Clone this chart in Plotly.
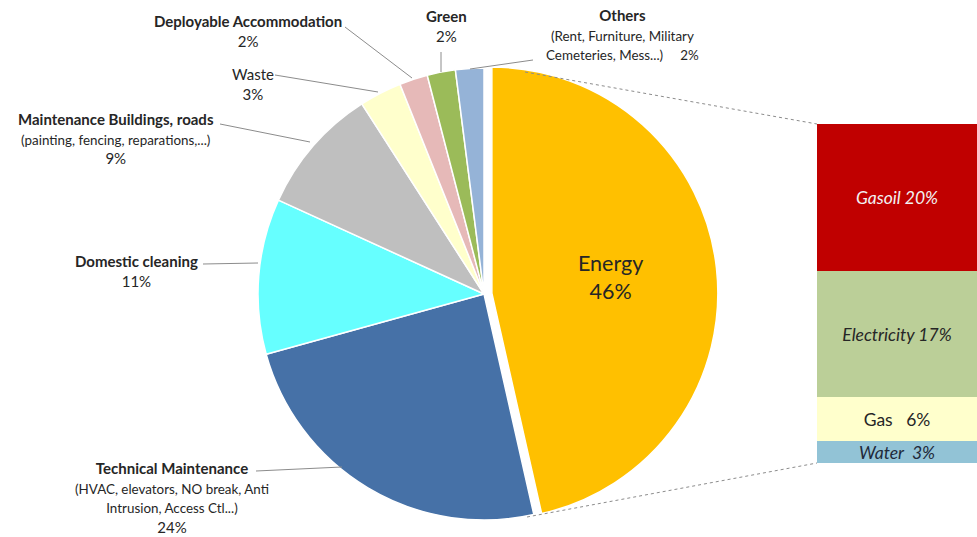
import plotly.graph_objects as go

# ---------------- data ----------------
categories = ["Energy", "Technical Maintenance", "Domestic cleaning",
              "Maintenance Buildings, roads", "Waste",
              "Deployable Accommodation", "Green", "Others"]
values = [46, 24, 11, 9, 3, 2, 2, 2]
details = ["", "(HVAC, elevators, NO break, Anti<br>Intrusion, Access Ctl...)", "",
           "(painting, fencing, reparations,...)", "", "", "",
           "(Rent, Furniture, Military<br>Cemeteries, Mess...)"]

energy_parts = ["Gasoil", "Electricity", "Gas", "Water"]
energy_values = [20, 17, 6, 3]

# ---------------- style ----------------
W, H = 977, 537
FONT = "Lato"
pie_colors = ["#FFC000", "#4671A7", "#66FFFF", "#BFBFBF", "#FFFFCC",
              "#E6B9B8", "#9BBB59", "#95B3D7"]
bar_colors = {"Gasoil": "#C00000", "Electricity": "#BBCF98",
              "Gas": "#FFFFCC", "Water": "#92C3D6"}
bar_text_color = {"Gasoil": "#F2F2F2", "Electricity": "#262626",
                  "Gas": "#262626", "Water": "#1F2A3A"}
bar_italic = {"Gasoil": True, "Electricity": True, "Gas": False, "Water": True}
bar_sep = {"Gasoil": " ", "Electricity": " ", "Gas": "   ", "Water": "  "}
bold_title = [False, True, True, True, False, True, True, True]


def px(x):
    return x / W


def py(y):
    return 1 - y / H


# pie geometry (pixels)
cx, cy, R, pull = 484, 294, 226, 0.035
half = R * (1 + pull)

fig = go.Figure()

fig.add_trace(go.Pie(
    labels=categories, values=values, sort=False, direction="clockwise",
    rotation=0, pull=[pull] + [0] * (len(values) - 1),
    marker=dict(colors=pie_colors, line=dict(color="white", width=1.5)),
    textinfo="none", hoverinfo="label+percent", showlegend=False,
    domain=dict(x=[px(cx - half), px(cx + half)], y=[py(cy + half), py(cy - half)]),
))

# stacked bar for energy breakdown (bottom to top)
for name in reversed(energy_parts):
    v = energy_values[energy_parts.index(name)]
    label = f"{name}{bar_sep[name]}{v}%"
    if bar_italic[name]:
        label = f"<i>{label}</i>"
    fig.add_trace(go.Bar(
        x=[0], y=[v], xaxis="x2", yaxis="y2", name=name,
        marker=dict(color=bar_colors[name], line=dict(width=0)),
        text=[label], textposition="inside", insidetextanchor="middle",
        textangle=0, constraintext="none",
        textfont=dict(family=FONT, size=17.5, color=bar_text_color[name]),
        showlegend=False, hoverinfo="name+y",
    ))

bar_left, bar_top, bar_bottom = 817, 124, 463

fig.update_layout(
    width=W, height=H, margin=dict(l=0, r=0, t=0, b=0),
    paper_bgcolor="white", plot_bgcolor="white",
    barmode="stack", bargap=0,
    font=dict(family=FONT, color="#262626"),
    xaxis2=dict(domain=[px(bar_left), 1.0], range=[-0.5, 0.5], visible=False,
                fixedrange=True),
    yaxis2=dict(domain=[py(bar_bottom), py(bar_top)], range=[0, sum(energy_values)],
                visible=False, fixedrange=True, anchor="x2"),
    xaxis=dict(visible=False), yaxis=dict(visible=False),
)

# ---------------- labels ----------------
TITLE = 15
SUB = 13.4


def lab(i):
    t = f"<b>{categories[i]}</b>" if bold_title[i] else categories[i]
    if details[i]:
        t += f"<br><span style='font-size:{SUB}px'>{details[i]}</span>"
    t += f"<br>{values[i]}%"
    return t


label_pos = {
    1: (172, 497),
    2: (136, 271),
    3: (116, 138),
    4: (253, 84),
    5: (248, 31),
    6: (446, 26),
}
for i, (x, y) in label_pos.items():
    fig.add_annotation(x=px(x), y=py(y), xref="paper", yref="paper",
                       text=lab(i), showarrow=False, align="center",
                       xanchor="center", yanchor="middle",
                       font=dict(family=FONT, size=TITLE, color="#262626"))

# Others label: percentage on the last detail line
others_txt = (f"<b>{categories[7]}</b><br><span style='font-size:{SUB}px'>"
              f"{details[7]}     {values[7]}%</span>")
fig.add_annotation(x=px(622), y=py(35), xref="paper", yref="paper",
                   text=others_txt, showarrow=False, align="center",
                   xanchor="center", yanchor="middle",
                   font=dict(family=FONT, size=TITLE, color="#262626"))

# Energy label inside slice
fig.add_annotation(x=px(610), y=py(277), xref="paper", yref="paper",
                   text=f"{categories[0]}<br>{values[0]}%", showarrow=False,
                   align="center", font=dict(family=FONT, size=21.5, color="#262626"))

# leader lines (pixel coords)
leaders = [
    ((256, 471), (342, 467)),   # technical
    ((203, 264), (258, 263)),   # domestic
    ((220, 124), (310, 142)),   # maintenance buildings
    ((275, 75), (378, 92)),     # waste
    ((345, 27), (412, 78)),     # deployable
    ((441, 52), (441, 72)),     # green
    ((533, 60), (470, 69)),     # others
]
for (x0, y0), (x1, y1) in leaders:
    fig.add_shape(type="line", xref="paper", yref="paper",
                  x0=px(x0), y0=py(y0), x1=px(x1), y1=py(y1),
                  line=dict(color="#8C8C8C", width=1))

# dotted connectors from energy slice to bar
for (x0, y0), (x1, y1) in [((525, 72), (bar_left, bar_top)),
                           ((527, 517), (bar_left, bar_bottom))]:
    fig.add_shape(type="line", xref="paper", yref="paper",
                  x0=px(x0), y0=py(y0), x1=px(x1), y1=py(y1),
                  line=dict(color="#8C8C8C", width=1, dash="dot"))

fig.write_html("out.html", config={"displayModeBar": False},
               post_script="document.body.style.margin='0px';"
                           "document.body.style.overflow='hidden';")
